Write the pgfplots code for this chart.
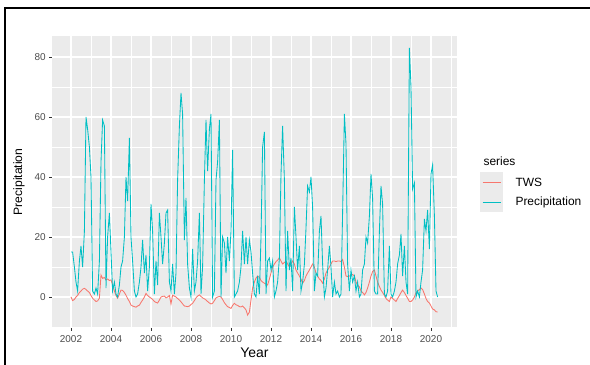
\documentclass[border=0pt]{standalone}
\usepackage{pgfplots}
\pgfplotsset{compat=1.18}
\usepackage{fontspec}
\setmainfont{Liberation Sans}
\definecolor{ggpanel}{HTML}{EBEBEB}
\definecolor{twscol}{HTML}{F8766D}
\definecolor{precol}{HTML}{00BFC4}
\definecolor{ticktext}{HTML}{4D4D4D}
\definecolor{tickcol}{HTML}{333333}
\begin{document}
\begin{tikzpicture}
\useasboundingbox (0bp,0bp) rectangle (590bp,365bp);
\fill[white] (0bp,0bp) rectangle (590bp,365bp);
\draw[black, line width=1.5bp] (5bp,0bp) -- (5bp,357bp) -- (590bp,357bp);
\begin{axis}[
  at={(52bp,37bp)}, anchor=south west,
  scale only axis, width=405bp, height=292bp,
  xmin=2001.05, xmax=2021.3, ymin=-10.33, ymax=87,
  axis background/.style={fill=ggpanel},
  axis line style={draw=none},
  xtick={2002,2004,...,2020}, ytick={0,20,...,80},
  minor xtick={2001,2003,...,2021}, minor ytick={-10,10,...,70},
  grid=both,
  major grid style={white, line width=1.07bp},
  minor grid style={white, line width=0.53bp},
  tick pos=left,
  tick align=outside, major tick length=2.75bp, minor tick length=0pt,
  tick style={tickcol, line width=0.5bp},
  /pgf/number format/assume math mode=true,
  /pgf/number format/set thousands separator={},
  ticklabel style={font=\fontsize{10}{12}\selectfont, text=ticktext},
  xticklabel style={yshift=-1.5bp},
  xlabel={Year}, ylabel={Precipitation},
  every axis x label/.style={at={(axis description cs:0.5,0)}, yshift=-25bp, anchor=center, font=\fontsize{14}{16}\selectfont},
  every axis y label/.style={at={(axis description cs:0,0.5)}, xshift=-33bp, anchor=center, rotate=90, font=\fontsize{12.2}{14}\selectfont},
]
\addplot[twscol, line width=0.85bp] table {
2002.00 0
2002.08 -1.2
2002.17 -0.8
2002.25 0
2002.33 0.5
2002.42 1.5
2002.50 2
2002.58 2.6
2002.67 2.9
2002.75 2.5
2002.83 2
2002.92 1.5
2003.00 0.5
2003.08 -0.4
2003.17 -1
2003.25 -1.5
2003.33 -1.3
2003.42 -0.4
2003.50 7.3
2003.58 6.2
2003.67 6.5
2003.75 5.7
2003.83 6
2003.92 5.5
2004.00 5.7
2004.08 4
2004.17 2
2004.25 0.5
2004.33 -0.4
2004.42 1
2004.50 2.3
2004.58 2.2
2004.67 1.5
2004.75 0.6
2004.83 -0.5
2004.92 -1.5
2005.00 -2.7
2005.08 -3
2005.17 -3.2
2005.25 -3.4
2005.33 -3
2005.42 -2.7
2005.50 -1.8
2005.58 -1
2005.67 0
2005.75 1.2
2005.83 0.5
2005.92 0
2006.00 -0.4
2006.08 -0.8
2006.17 -1.5
2006.25 -1.8
2006.33 -2
2006.42 -1
2006.50 0
2006.58 0.2
2006.67 0.3
2006.75 -0.3
2006.83 0
2006.92 0.5
2007.00 -2.3
2007.08 0.6
2007.17 0.3
2007.25 0
2007.33 -0.5
2007.42 -1
2007.50 -1.6
2007.58 -2.3
2007.67 -3
2007.75 -3.1
2007.83 -3.2
2007.92 -3
2008.00 -2.5
2008.08 -2.1
2008.17 -1.2
2008.25 -0.3
2008.33 0.3
2008.42 0.7
2008.50 0.2
2008.58 -0.3
2008.67 -0.6
2008.75 -1
2008.83 -1.5
2008.92 -2
2009.00 -2.3
2009.08 -2.1
2009.17 -1.2
2009.25 -0.3
2009.33 0
2009.42 0.2
2009.50 0
2009.58 -0.8
2009.67 -1.9
2009.75 -2.6
2009.83 -3.2
2009.92 -3.5
2010.00 -3.8
2010.08 -2.8
2010.17 -2.1
2010.25 -2.6
2010.33 -2.8
2010.42 -3.2
2010.50 -3.3
2010.58 -3
2010.67 -3.6
2010.75 -4.3
2010.83 -6
2010.92 -5
2011.00 -1
2011.08 3
2011.17 5
2011.25 6.3
2011.33 7
2011.42 6.5
2011.50 5.5
2011.58 5
2011.67 4.6
2011.75 4.3
2011.83 4
2011.92 6
2012.00 8
2012.08 10
2012.17 11
2012.25 11.8
2012.33 12.3
2012.42 13
2012.50 12
2012.58 11
2012.67 11.5
2012.75 12
2012.83 11
2012.92 10
2013.00 11
2013.08 12
2013.17 11
2013.25 9
2013.33 8
2013.42 7
2013.50 6
2013.58 4.6
2013.67 5.5
2013.75 7
2013.83 8
2013.92 9
2014.00 10
2014.08 11
2014.17 10
2014.25 8
2014.33 7
2014.42 6
2014.50 5.5
2014.58 4.6
2014.67 6
2014.75 8
2014.83 9
2014.92 10
2015.00 11
2015.08 12
2015.17 12
2015.25 11.8
2015.33 12
2015.42 12
2015.50 11.8
2015.58 12.5
2015.67 10
2015.75 7
2015.83 6.8
2015.92 7
2016.00 7.2
2016.08 7.5
2016.17 7
2016.25 5
2016.33 4
2016.42 3.4
2016.50 2
2016.58 1.5
2016.67 0.7
2016.75 1.5
2016.83 3
2016.92 5
2017.00 7
2017.08 8.5
2017.17 9
2017.25 7
2017.33 5
2017.42 3.5
2017.50 2.3
2017.58 1.5
2017.67 0.5
2017.75 -0.5
2017.83 -1
2017.92 -1.5
2018.00 0
2018.08 -0.5
2018.17 -1
2018.25 -1.5
2018.33 -0.5
2018.42 0.5
2018.50 1.5
2018.58 2.3
2018.67 1.5
2018.75 0.5
2018.83 -0.4
2018.92 -1.5
2019.00 -1.5
2019.08 -1
2019.17 0
2019.25 1.5
2019.33 2
2019.42 2.5
2019.50 3
2019.58 2.5
2019.67 1
2019.75 -0.5
2019.83 -1.5
2019.92 -2
2020.00 -3
2020.08 -4
2020.17 -4.3
2020.25 -4.9
2020.33 -5
};
\addplot[precol, line width=0.85bp] table {
2002.00 15
2002.08 15
2002.17 10
2002.25 5
2002.33 2
2002.42 12
2002.50 17
2002.58 10
2002.67 22
2002.75 60
2002.83 56
2002.92 50
2003.00 40
2003.08 2
2003.17 1
2003.25 3
2003.33 1
2003.42 12
2003.50 45
2003.58 59
2003.67 57
2003.75 3
2003.83 20
2003.92 28
2004.00 15
2004.08 2
2004.17 5
2004.25 1
2004.33 0
2004.42 4
2004.50 10
2004.58 12
2004.67 20
2004.75 40
2004.83 32
2004.92 53
2005.00 20
2005.08 12
2005.17 2
2005.25 0
2005.33 1
2005.42 5
2005.50 10
2005.58 19
2005.67 8
2005.75 14
2005.83 2
2005.92 10
2006.00 31
2006.08 22
2006.17 1
2006.25 12
2006.33 4
2006.42 28
2006.50 20
2006.58 11
2006.67 18
2006.75 28
2006.83 29
2006.92 5
2007.00 2
2007.08 11
2007.17 1
2007.25 8
2007.33 39
2007.42 57
2007.50 68
2007.58 61
2007.67 19
2007.75 33
2007.83 11
2007.92 3
2008.00 0
2008.08 16
2008.17 2
2008.25 5
2008.33 12
2008.42 28
2008.50 1
2008.58 10
2008.67 39
2008.75 59
2008.83 42
2008.92 56
2009.00 61
2009.08 0
2009.17 2
2009.25 39
2009.33 45
2009.42 59
2009.50 0
2009.58 20
2009.67 18
2009.75 8
2009.83 20
2009.92 12
2010.00 22
2010.08 49
2010.17 0
2010.25 1
2010.33 2
2010.42 5
2010.50 10
2010.58 22
2010.67 11
2010.75 20
2010.83 11
2010.92 19
2011.00 15
2011.08 8
2011.17 1
2011.25 0
2011.33 7
2011.42 1
2011.50 20
2011.58 50
2011.67 55
2011.75 1
2011.83 12
2011.92 13
2012.00 9
2012.08 12
2012.17 0
2012.25 2
2012.33 5
2012.42 13
2012.50 41
2012.58 57
2012.67 39
2012.75 2
2012.83 22
2012.92 9
2013.00 13
2013.08 2
2013.17 30
2013.25 20
2013.33 9
2013.42 17
2013.50 2
2013.58 5
2013.67 11
2013.75 23
2013.83 37
2013.92 35
2014.00 40
2014.08 30
2014.17 2
2014.25 8
2014.33 7
2014.42 22
2014.50 27
2014.58 11
2014.67 0
2014.75 3
2014.83 9
2014.92 17
2015.00 10
2015.08 0
2015.17 5
2015.25 1
2015.33 2
2015.42 0
2015.50 1
2015.58 28
2015.67 61
2015.75 51
2015.83 11
2015.92 2
2016.00 9
2016.08 5
2016.17 7
2016.25 2
2016.33 5
2016.42 0
2016.50 1
2016.58 9
2016.67 11
2016.75 20
2016.83 18
2016.92 27
2017.00 41
2017.08 33
2017.17 2
2017.25 1
2017.33 1
2017.42 22
2017.50 37
2017.58 31
2017.67 1
2017.75 0
2017.83 2
2017.92 17
2018.00 1
2018.08 0
2018.17 2
2018.25 5
2018.33 11
2018.42 14
2018.50 21
2018.58 7
2018.67 17
2018.75 5
2018.83 1
2018.92 83
2019.00 70
2019.08 36
2019.17 38
2019.25 0
2019.33 2
2019.42 0
2019.50 5
2019.58 9
2019.67 26
2019.75 22
2019.83 29
2019.92 16
2020.00 41
2020.08 44
2020.17 27
2020.25 2
2020.33 0
};
\end{axis}
% legend
\node[anchor=west, font=\fontsize{12}{14}\selectfont] at (480bp,204bp) {series};
\fill[ggpanel] (480bp,153bp) rectangle (503bp,193bp);
\draw[twscol, line width=0.85bp] (482.5bp,183bp) -- (500.5bp,183bp);
\draw[precol, line width=0.85bp] (482.5bp,163bp) -- (500.5bp,163bp);
\node[anchor=west, font=\fontsize{12}{14}\selectfont] at (512bp,183bp) {TWS};
\node[anchor=west, font=\fontsize{12}{14}\selectfont] at (512bp,163bp) {Precipitation};
\end{tikzpicture}
\end{document}
